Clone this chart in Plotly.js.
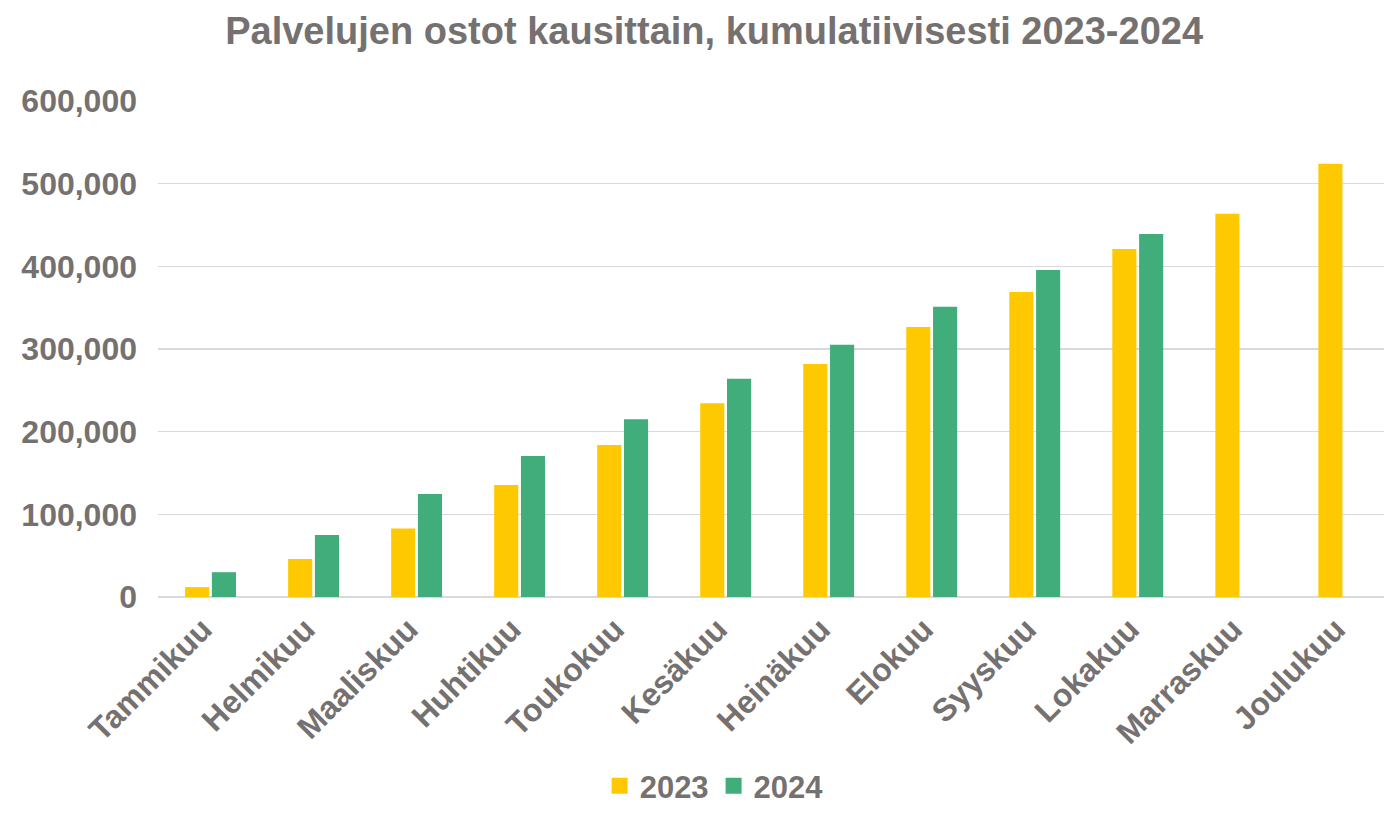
<!DOCTYPE html>
<html>
<head>
<meta charset="utf-8">
<script src="https://cdn.plot.ly/plotly-3.0.1.min.js"></script>
<style>html,body{margin:0;padding:0;background:#fff;}#chart{width:1384px;height:813px;}</style>
</head>
<body>
<div id="chart"></div>
<script>
var months = ["Tammikuu","Helmikuu","Maaliskuu","Huhtikuu","Toukokuu","Kesäkuu","Heinäkuu","Elokuu","Syyskuu","Lokakuu","Marraskuu","Joulukuu"];
var values2023 = [12000, 46000, 83000, 135500, 184000, 234500, 282000, 326500, 369000, 421000, 463500, 524000];
var values2024 = [30000, 75000, 124500, 170500, 215000, 264000, 305000, 351000, 395500, 439000, null, null];
var seriesNames = ["2023", "2024"];
var seriesColors = ["#FFC901", "#40AD7B"];

var textColor = "#767171";
var traces = [
  {type: "bar", name: seriesNames[0], x: months, y: values2023, marker: {color: seriesColors[0]}, showlegend: false},
  {type: "bar", name: seriesNames[1], x: months, y: values2024, marker: {color: seriesColors[1]}, showlegend: false},
  {type: "scatter", mode: "markers", name: seriesNames[0], x: [null], y: [null],
   marker: {symbol: "square", size: 18, color: seriesColors[0]}, showlegend: true},
  {type: "scatter", mode: "markers", name: seriesNames[1], x: [null], y: [null],
   marker: {symbol: "square", size: 18, color: seriesColors[1]}, showlegend: true}
];
var layout = {
  width: 1384, height: 813,
  margin: {l: 158, r: 0, t: 101, b: 216},
  paper_bgcolor: "#ffffff", plot_bgcolor: "#ffffff",
  font: {family: "Liberation Sans, Arial, sans-serif", color: textColor},
  title: {text: "<b>Palvelujen ostot kausittain, kumulatiivisesti 2023-2024</b>",
          font: {size: 38, color: textColor}, x: 0.516, xref: "container", xanchor: "center",
          y: 0.962, yref: "container", yanchor: "middle"},
  barmode: "group", bargap: 0.48, bargroupgap: 0.1,
  xaxis: {type: "category", range: [-0.51, 11.39], tickangle: -45, showgrid: false, showline: false, zeroline: false,
          tickfont: {size: 32, color: textColor, weight: "bold"}, ticks: "", ticklabelstandoff: 6, ticklabelshift: -8},
  yaxis: {range: [0, 600000], dtick: 100000, tickformat: ",", showgrid: true, gridcolor: "#d9d9d9", gridwidth: 1.5,
          zeroline: true, zerolinecolor: "#d9d9d9", zerolinewidth: 1.5, showline: false, ticks: "",
          tickfont: {size: 32, color: textColor, weight: "bold"}, ticklabelstandoff: 20},
  showlegend: true,
  legend: {orientation: "h", xref: "container", yref: "container", x: 0.516, xanchor: "center", y: -0.007, yanchor: "bottom",
           font: {size: 31, color: textColor, weight: "bold"}, itemwidth: 30, tracegroupgap: 0}
};
Plotly.newPlot("chart", traces, layout, {displayModeBar: false, staticPlot: true});
</script>
</body>
</html>
